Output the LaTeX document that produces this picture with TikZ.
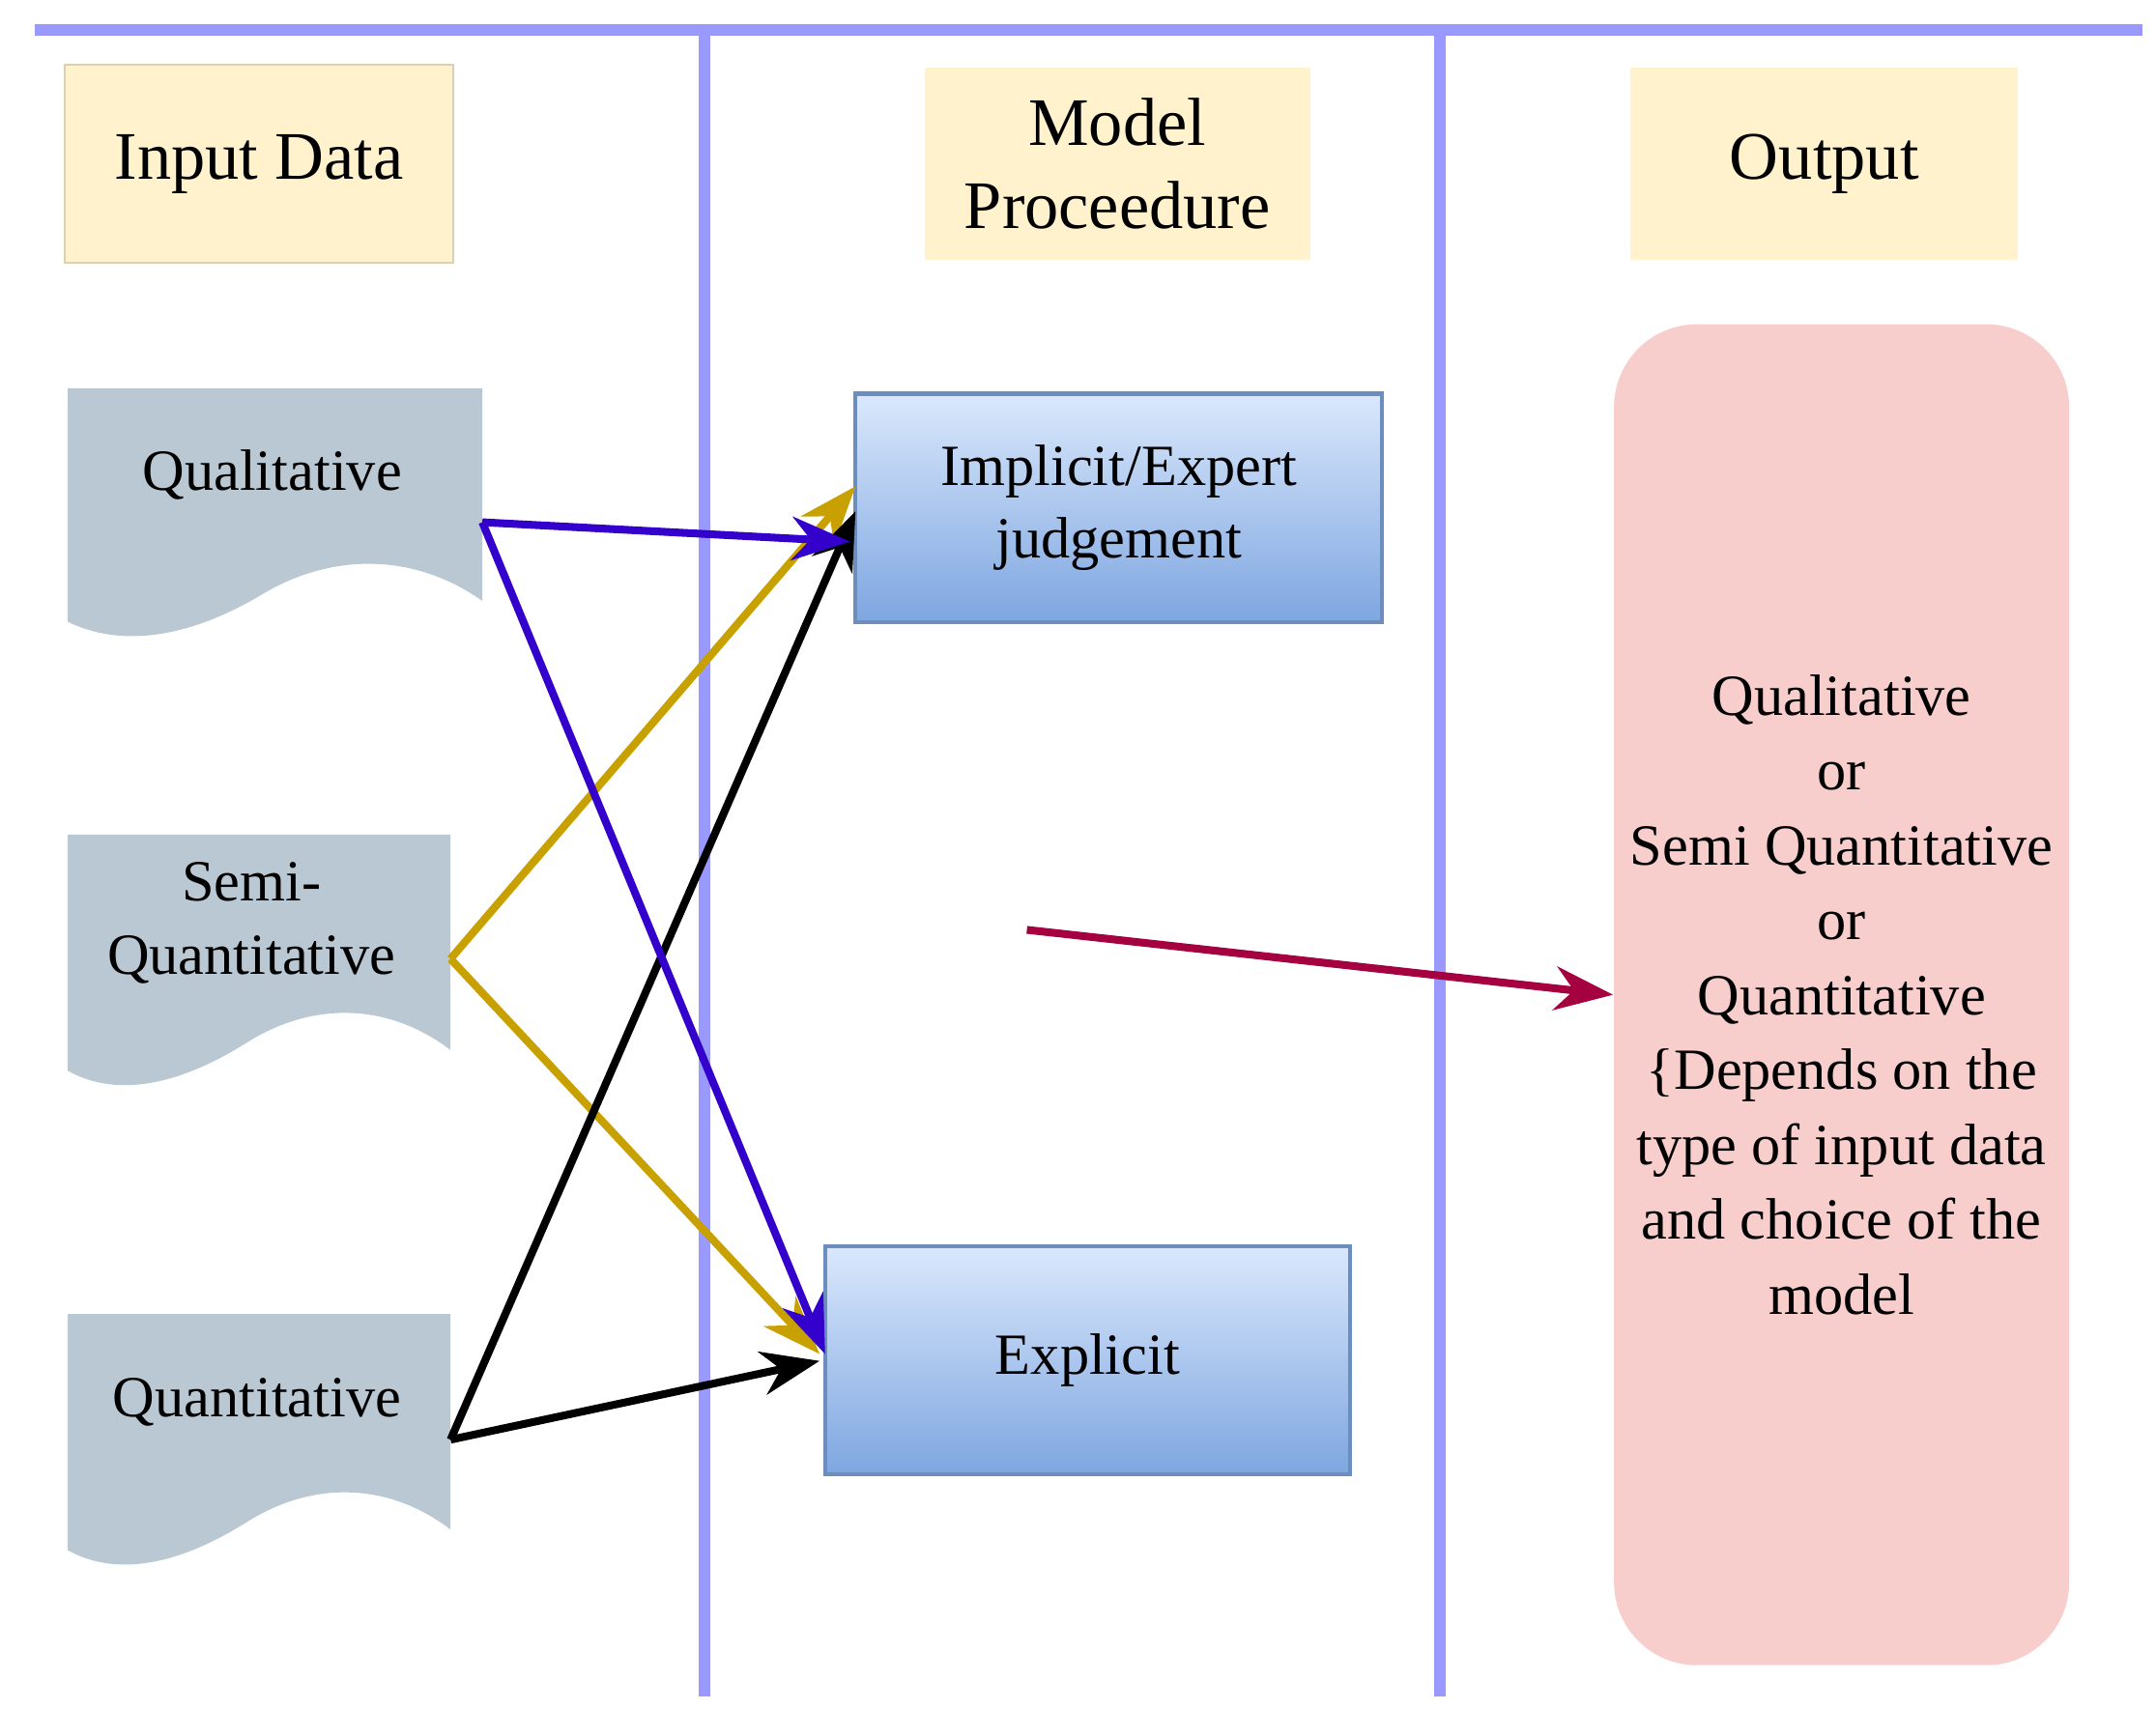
\documentclass[tikz,border=0pt]{standalone}
\usepackage{fontspec}
\setmainfont{Liberation Serif}
\usetikzlibrary{arrows.meta}
\definecolor{lane}{HTML}{9999FF}
\definecolor{hdr}{HTML}{FFF2CC}
\definecolor{docf}{HTML}{BAC8D3}
\definecolor{bt}{HTML}{DAE8FC}
\definecolor{bb}{HTML}{7EA6E0}
\definecolor{bd}{HTML}{6C8EBF}
\definecolor{outf}{HTML}{F8CECC}
\definecolor{ablue}{HTML}{3300CC}
\definecolor{agold}{HTML}{C8A000}
\definecolor{ared}{HTML}{A50040}
\begin{document}
\begin{tikzpicture}[x=0.01cm,y=-0.01cm,
 hdr/.style={fill=hdr,draw=hdr!70!gray,align=center,font=\fontsize{14}{17}\selectfont},
 doc/.style={fill=docf},
 dtxt/.style={align=center,font=\fontsize{12}{15}\selectfont},
 bbox/.style={draw=bd,top color=bt,bottom color=bb,thick,align=center,font=\fontsize{12}{15}\selectfont},
 arr/.style={line width=1.6pt,-{Stealth[length=12pt,width=9pt]}}]
\useasboundingbox (0,0) rectangle (1560,1237);
% lanes
\draw[lane,line width=2.4pt] (25,22) -- (1550,22);
\draw[lane,line width=2.4pt] (510,22) -- (510,1228);
\draw[lane,line width=2.4pt] (1042,22) -- (1042,1228);
% headers
\node[hdr,minimum width=2.81cm,minimum height=1.43cm] (h1) at (187.5,118.5) {Input Data};
\node[hdr,draw=none,minimum width=2.79cm,minimum height=1.39cm] (h2) at (808.5,118.5) {Model\\Proceedure};
\node[hdr,draw=none,minimum width=2.8cm,minimum height=1.39cm] (h3) at (1320,118.5) {Output};
% documents
\fill[doc] (49,281) -- (349,281) -- (349,435) .. controls (300,400) and (240,400) .. (190,430) .. controls (140,460) and (90,470) .. (49,450) -- cycle;
\node[dtxt] (q1) at (197,344) {Qualitative};
\fill[doc] (49,604) -- (326,604) -- (326,760) .. controls (280,725) and (225,725) .. (178,755) .. controls (130,785) and (85,795) .. (49,775) -- cycle;
\node[dtxt] (q2) at (182,668) {Semi-\\Quantitative};
\fill[doc] (49,951) -- (326,951) -- (326,1107) .. controls (280,1072) and (225,1072) .. (178,1102) .. controls (130,1132) and (85,1142) .. (49,1122) -- cycle;
\node[dtxt] (q3) at (186,1015) {Quantitative};
\coordinate (s1) at (349,378);
\coordinate (s2) at (326,694);
\coordinate (s3) at (326,1042);
% model boxes
\node[bbox,minimum width=3.81cm,minimum height=1.65cm] (imp) at (809.5,367.5) {Implicit/Expert\\judgement};
\node[bbox,minimum width=3.8cm,minimum height=1.65cm] (exp) at (787,984.5) {Explicit};
% output
\node[fill=outf,rounded corners=0.6cm,minimum width=2.99cm,minimum height=9.7cm,align=center,font=\fontsize{12}{15.4}\selectfont] (out) at (1332.5,720) {Qualitative\\or\\Semi Quantitative\\or\\Quantitative\\\{Depends on the\\type of input data\\and choice of the\\model};
% arrows
\coordinate (e1) at (615,392);
\coordinate (e2) at (619,352);
\coordinate (e3) at (619,370);
\coordinate (f1) at (597,980);
\coordinate (f2) at (593,980);
\coordinate (f3) at (593,985);
\draw[arr,agold] (s2) -- (e2);
\draw[arr,agold] (s2) -- (f2);
\draw[arr,black] (s3) -- (e3);
\draw[arr,black] (s3) -- (f3);
\draw[arr,ablue] (s1) -- (e1);
\draw[arr,ablue] (s1) -- (f1);
\coordinate (r0) at (743,673);
\draw[arr,ared] (r0) -- (out.west);
\end{tikzpicture}
\end{document}
